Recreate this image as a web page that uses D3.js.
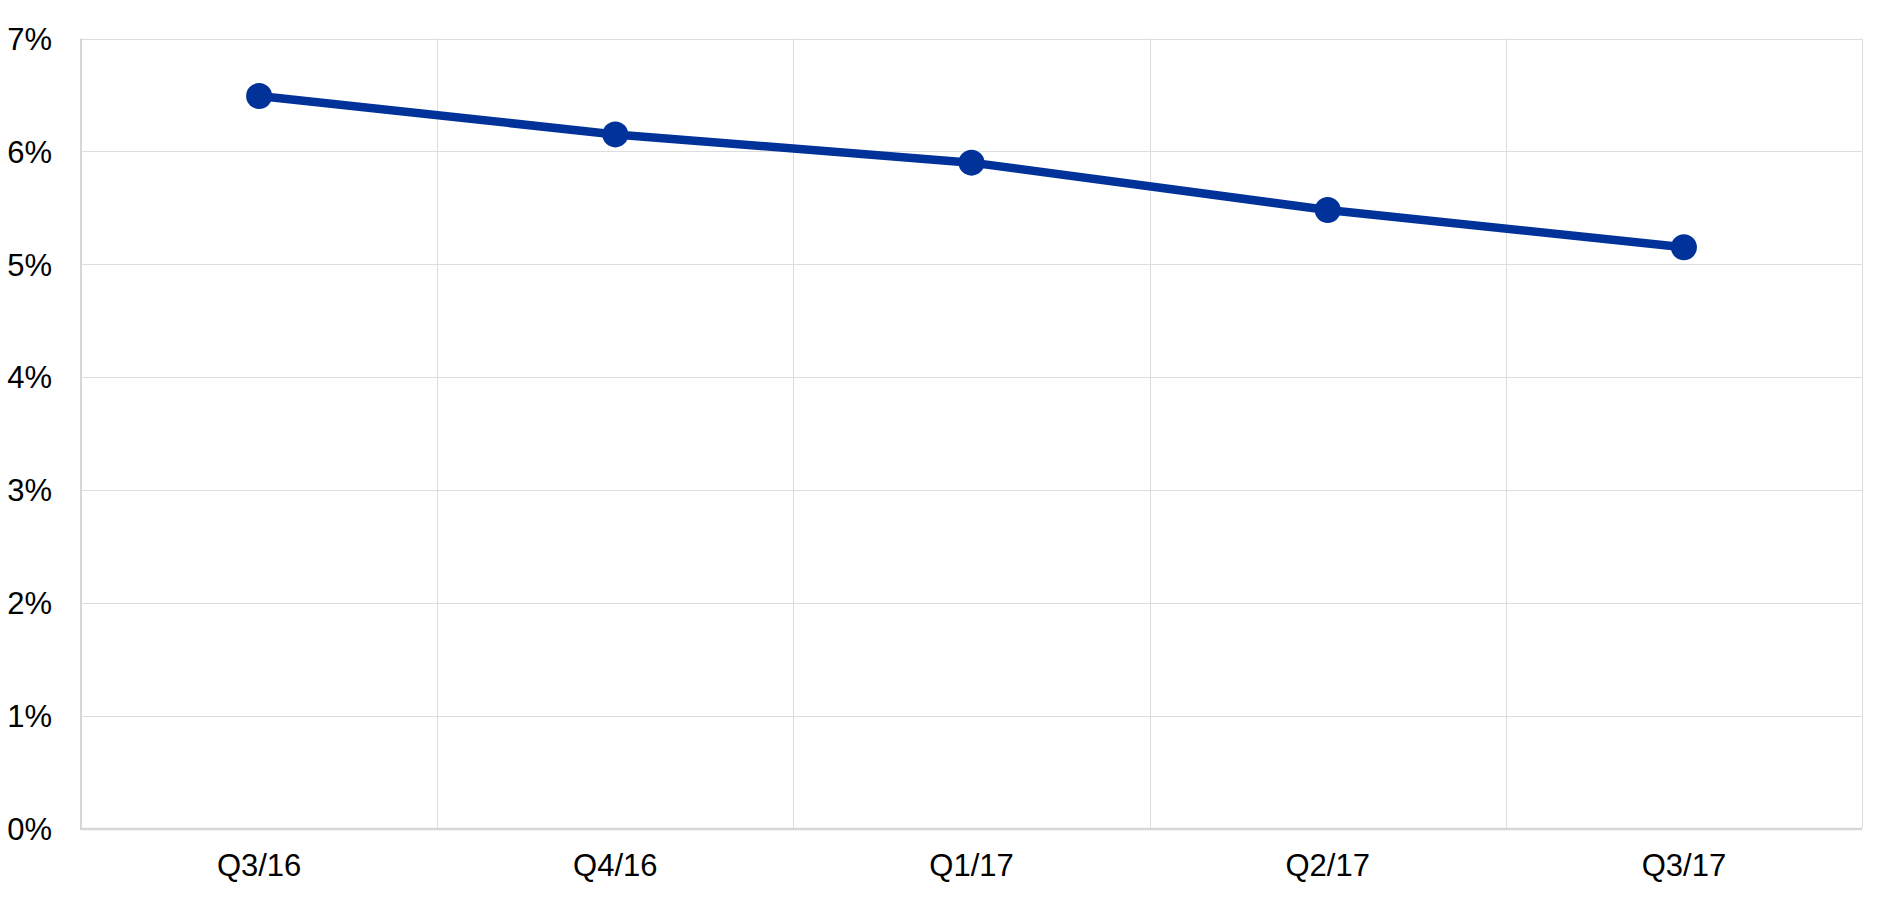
<!DOCTYPE html>
<html>
<head>
<meta charset="utf-8">
<script src="https://cdn.jsdelivr.net/npm/d3@7/dist/d3.min.js"></script>
<style>
  html, body { margin: 0; padding: 0; background: #ffffff; }
  svg { display: block; }
  text { font-family: "Liberation Sans", Arial, sans-serif; fill: #000; }
</style>
</head>
<body>
<svg id="chart" width="1890" height="898"></svg>
<script>
const categories = ["Q3/16", "Q4/16", "Q1/17", "Q2/17", "Q3/17"];
const values = [6.49, 6.15, 5.90, 5.48, 5.15];
const yTicks = [0, 1, 2, 3, 4, 5, 6, 7];

const W = 1890, H = 898;
const margin = { left: 81, right: 28, top: 38.5, bottom: 69.5 };
const svg = d3.select("#chart");

const x = d3.scaleBand().domain(categories).range([margin.left, W - margin.right]).padding(0);
const y = d3.scaleLinear().domain([0, 7]).range([H - margin.bottom, margin.top]);

const grid = svg.append("g");
// horizontal gridlines
grid.selectAll("line.h").data(yTicks.filter(d => d > 0)).join("line")
  .attr("x1", margin.left).attr("x2", W - margin.right)
  .attr("y1", d => Math.round(y(d)) + 0.5).attr("y2", d => Math.round(y(d)) + 0.5)
  .attr("stroke", "#dddddd").attr("stroke-width", 1);
// vertical gridlines at category boundaries
const bounds = categories.slice(1).map(c => x(c)).concat([x(categories[categories.length - 1]) + x.bandwidth()]);
grid.selectAll("line.v").data(bounds).join("line")
  .attr("x1", d => Math.round(d) + 0.5).attr("x2", d => Math.round(d) + 0.5)
  .attr("y1", margin.top).attr("y2", H - margin.bottom)
  .attr("stroke", "#dddddd").attr("stroke-width", 1);

// axes lines
svg.append("line")
  .attr("x1", margin.left).attr("x2", margin.left)
  .attr("y1", margin.top).attr("y2", H - margin.bottom + 1)
  .attr("stroke", "#d6d6d6").attr("stroke-width", 2);
svg.append("line")
  .attr("x1", margin.left - 1).attr("x2", W - margin.right)
  .attr("y1", y(0) + 0.5).attr("y2", y(0) + 0.5)
  .attr("stroke", "#d6d6d6").attr("stroke-width", 2.5);

// y-axis labels
const yAxis = d3.axisLeft(y).tickValues(yTicks).tickFormat(d => d + "%").tickSize(0).tickPadding(0);
const gy = svg.append("g").attr("transform", `translate(52,0)`).call(yAxis);
gy.select(".domain").remove();
gy.selectAll("text").attr("font-size", 31).attr("font-family", "Liberation Sans, Arial, sans-serif").attr("fill", "#000").attr("dy", "0.35em");

// x-axis labels
const xAxis = d3.axisBottom(x).tickSize(0).tickPadding(0);
const gx = svg.append("g").attr("transform", `translate(0,${y(0)})`).call(xAxis);
gx.select(".domain").remove();
gx.selectAll("text").attr("font-size", 31).attr("font-family", "Liberation Sans, Arial, sans-serif").attr("fill", "#000").attr("y", 47).attr("dy", 0);

// line
const cx = d => x(d) + x.bandwidth() / 2;
const data = categories.map((c, i) => ({ c, v: values[i] }));
const line = d3.line().x(d => cx(d.c)).y(d => y(d.v));
svg.append("path").datum(data)
  .attr("d", line).attr("fill", "none")
  .attr("stroke", "#003299").attr("stroke-width", 8.5).attr("stroke-linejoin", "round");
svg.selectAll("circle.pt").data(data).join("circle")
  .attr("cx", d => cx(d.c)).attr("cy", d => y(d.v)).attr("r", 13)
  .attr("fill", "#003299");
</script>
</body>
</html>
